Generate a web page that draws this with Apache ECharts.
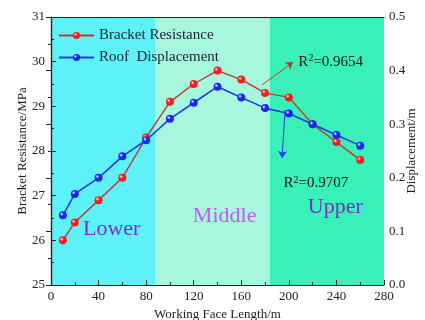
<!DOCTYPE html>
<html>
<head>
<meta charset="utf-8">
<script src="https://cdn.jsdelivr.net/npm/echarts@6/dist/echarts.min.js"></script>
<style>
html,body{margin:0;padding:0;background:#fff;}
#main{width:425px;height:320px;}
</style>
</head>
<body>
<div id="main"></div>
<script>
// working face positions (m)
var faceLength = [10, 20, 40, 60, 80, 100, 120, 140, 160, 180, 200, 220, 240, 260];
// bracket resistance (MPa)
var resistance = [26.0, 26.4, 26.9, 27.4, 28.3, 29.1, 29.5, 29.8, 29.6, 29.3, 29.2, 28.6, 28.2, 27.8];
// roof displacement (m)
var displacement = [0.13, 0.17, 0.20, 0.24, 0.27, 0.31, 0.34, 0.37, 0.35, 0.33, 0.32, 0.30, 0.28, 0.26];
// zones along the face
var zoneNames = ['Lower', 'Middle', 'Upper'];
var zoneBounds = [[0, 88], [88, 184], [184, 280]];
var zoneColors = ['#5EF1F7', '#A7F7DE', '#38F0B8'];

var font = 'Liberation Serif';

function ball(c) {
    return new echarts.graphic.RadialGradient(0.35, 0.35, 0.7, [
        {offset: 0, color: '#ffffff'},
        {offset: 0.35, color: c},
        {offset: 1, color: c}
    ]);
}

var chart = echarts.init(document.getElementById('main'));

var areas = [];
for (var i = 0; i < zoneBounds.length; i++) {
    areas.push([
        {xAxis: zoneBounds[i][0], itemStyle: {color: zoneColors[i], opacity: 1}},
        {xAxis: zoneBounds[i][1]}
    ]);
}

var option = {
    animation: false,
    backgroundColor: '#fff',
    grid: {left: 51, right: 41, top: 17, bottom: 35, outerBoundsMode: 'none', containLabel: false},
    legend: {
        orient: 'vertical',
        left: 53,
        top: 23,
        itemWidth: 35,
        itemHeight: 9,
        itemGap: 7,
        textStyle: {fontFamily: font, fontSize: 15, color: '#1c2033'},
        data: ['Bracket Resistance', 'Roof  Displacement']
    },
    xAxis: [{
        type: 'value',
        min: 0, max: 280, interval: 40,
        name: 'Working Face Length/m',
        nameLocation: 'middle',
        nameGap: 21,
        nameTextStyle: {fontFamily: font, fontSize: 13, color: '#222'},
        axisLine: {lineStyle: {color: '#222', width: 1.2}},
        axisTick: {inside: true, length: 5, lineStyle: {color: '#222'}},
        minorTick: {show: true, splitNumber: 2, length: 3, lineStyle: {color: '#222'}},
        axisLabel: {fontFamily: font, fontSize: 13, color: '#222', margin: 5},
        splitLine: {show: false}
    }, {
        type: 'value',
        position: 'top',
        min: 0, max: 280,
        axisLine: {show: true, lineStyle: {color: '#222', width: 1.2}},
        axisTick: {show: false},
        axisLabel: {show: false},
        splitLine: {show: false}
    }],
    yAxis: [{
        type: 'value',
        min: 25, max: 31, interval: 1,
        name: 'Bracket Resistance/MPa',
        nameLocation: 'middle',
        nameGap: 22,
        nameMoveOverlap: false,
        nameTextStyle: {fontFamily: font, fontSize: 13, color: '#222'},
        axisLine: {show: true, lineStyle: {color: '#222', width: 1.2}},
        axisTick: {inside: true, length: 5, lineStyle: {color: '#222'}},
        minorTick: {show: true, splitNumber: 2, length: 3, lineStyle: {color: '#222'}},
        axisLabel: {fontFamily: font, fontSize: 13, color: '#222', margin: 6},
        splitLine: {show: false}
    }, {
        type: 'value',
        min: 0, max: 0.5, interval: 0.1,
        name: 'Displacement/m',
        nameLocation: 'middle',
        nameGap: 21,
        nameMoveOverlap: false,
        nameRotate: 90,
        nameTextStyle: {fontFamily: font, fontSize: 13, color: '#222'},
        axisLine: {show: true, lineStyle: {color: '#222', width: 1.2}},
        axisTick: {inside: true, length: 5, lineStyle: {color: '#222'}},
        minorTick: {show: true, splitNumber: 2, length: 3, lineStyle: {color: '#222'}},
        axisLabel: {fontFamily: font, fontSize: 13, color: '#222', margin: 5,
            formatter: function (v) { return v.toFixed(1); }},
        splitLine: {show: false}
    }],
    series: [{
        name: 'Bracket Resistance',
        type: 'line',
        yAxisIndex: 0,
        data: faceLength.map(function (x, i) { return [x, resistance[i]]; }),
        symbol: 'circle',
        symbolSize: 8,
        z: 3,
        lineStyle: {color: '#BC3B30', width: 1.4},
        itemStyle: {color: ball('#F21E1E'), borderWidth: 0},
        markArea: {silent: true, z: -1, data: areas},
        markLine: {
            silent: true,
            symbol: ['none', 'arrow'],
            symbolSize: 7,
            lineStyle: {color: '#BC3B30', width: 1, type: 'solid'},
            label: {show: false},
            data: [[{coord: [177.5, 29.48]}, {coord: [203.5, 29.99]}]]
        }
    }, {
        name: 'Roof  Displacement',
        type: 'line',
        yAxisIndex: 1,
        data: faceLength.map(function (x, i) { return [x, displacement[i]]; }),
        symbol: 'circle',
        symbolSize: 8,
        z: 3,
        lineStyle: {color: '#1E3FE0', width: 1.6},
        itemStyle: {color: ball('#1A28F0'), borderWidth: 0},
        markLine: {
            silent: true,
            symbol: ['none', 'arrow'],
            symbolSize: 7,
            lineStyle: {color: '#1E3FE0', width: 1, type: 'solid'},
            label: {show: false},
            data: [[{coord: [196.8, 0.3265]}, {coord: [194.3, 0.237]}]]
        }
    }]
};

chart.setOption(option);

// zone names and fit annotations placed from data coordinates
function px(x, y, idx) {
    return chart.convertToPixel({xAxisIndex: 0, yAxisIndex: idx || 0}, [x, y]);
}
var zoneLabelPos = [[51, 26.25], [146, 26.55], [239, 26.75]];
var zoneLabelColors = ['#7B2FC8', '#C35BE8', '#7B2FC8'];
var graphics = [];
for (var k = 0; k < zoneNames.length; k++) {
    var p = px(zoneLabelPos[k][0], zoneLabelPos[k][1]);
    graphics.push({
        type: 'text', x: p[0], y: p[1], z: 10,
        style: {text: zoneNames[k], fill: zoneLabelColors[k], font: '22px "Liberation Serif"',
            textAlign: 'center', textVerticalAlign: 'middle'}
    });
}
var r2Text = [['0.9654', 208, 30.0, 0], ['0.9707', 195.5, 0.19, 1]];
for (var m = 0; m < r2Text.length; m++) {
    var q = px(r2Text[m][1], r2Text[m][2], r2Text[m][3]);
    graphics.push({
        type: 'text', x: q[0], y: q[1], z: 10,
        style: {
            text: '{a|R}{s|2}{a|=' + r2Text[m][0] + '}',
            textVerticalAlign: 'middle',
            rich: {
                a: {fontFamily: font, fontSize: 15, fill: '#111'},
                s: {fontFamily: font, fontSize: 10, fill: '#111', verticalAlign: 'top', padding: [0, 0, 6, 0]}
            }
        }
    });
}
chart.setOption({graphic: graphics});
</script>
</body>
</html>
